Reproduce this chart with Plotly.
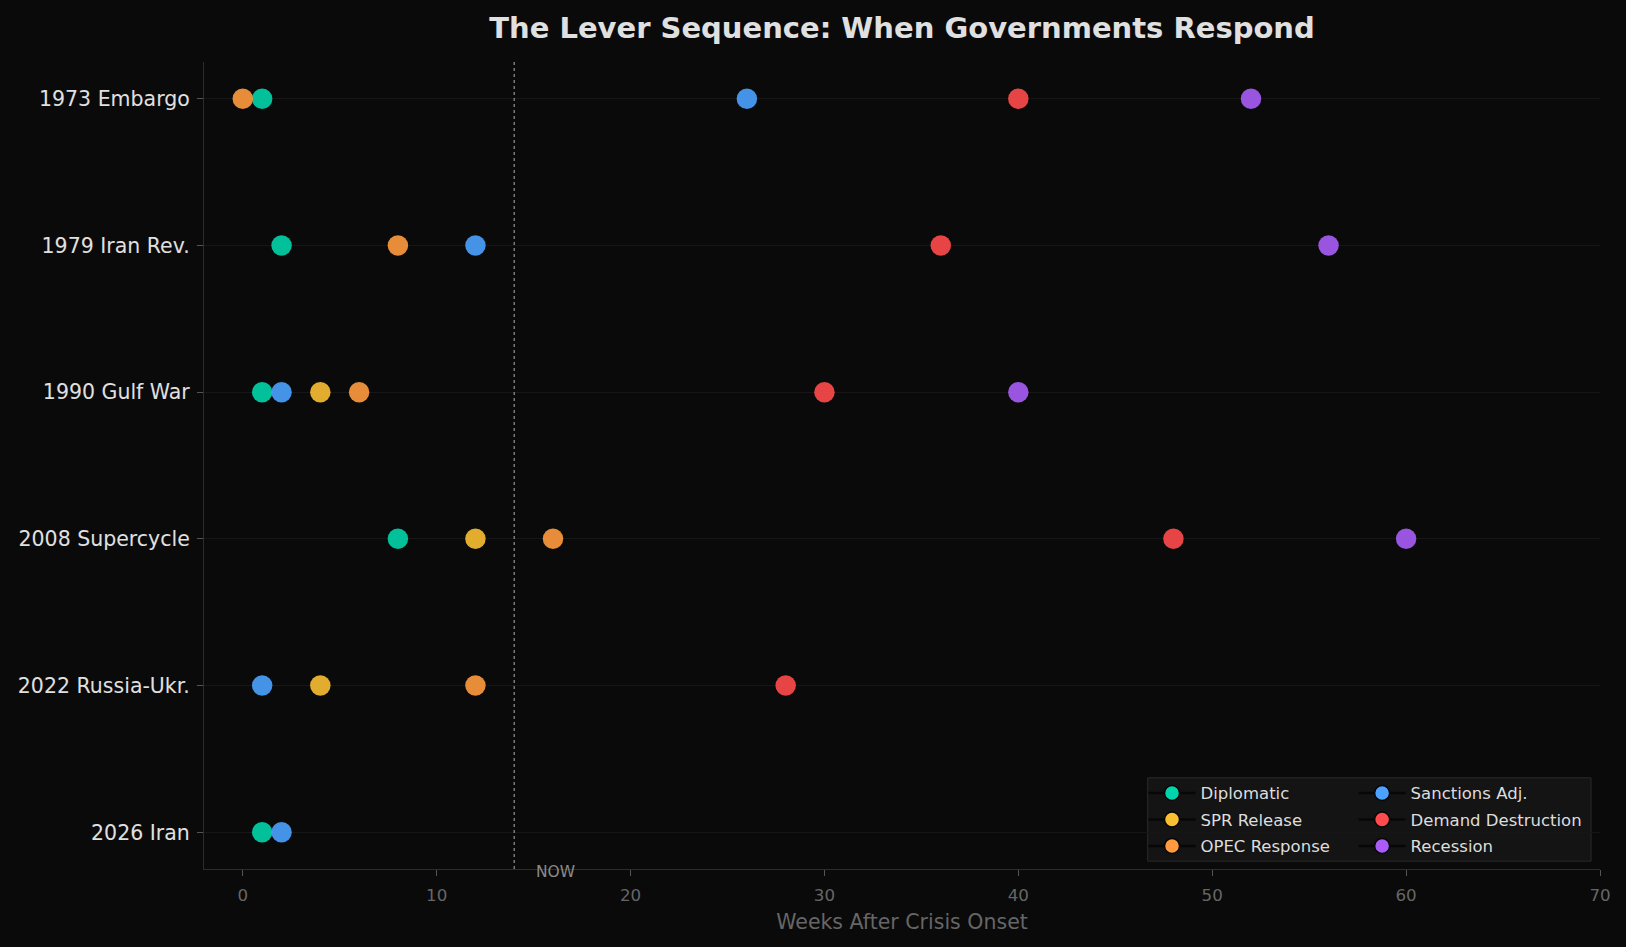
import plotly.graph_objects as go

# crises on y, weeks after onset on x
crises = ["1973 Embargo", "1979 Iran Rev.", "1990 Gulf War",
          "2008 Supercycle", "2022 Russia-Ukr.", "2026 Iran"]

levers = ["Diplomatic", "SPR Release", "OPEC Response",
          "Sanctions Adj.", "Demand Destruction", "Recession"]
colors = ["#00d4aa", "#f9bf33", "#ff9b3e", "#4ba2ff", "#ff4b4b", "#a95cf7"]

# week each lever fired, per crisis (None = never)
diplomatic = [1, 2, 1, 8, None, 1]
spr_release = [None, None, 4, 12, 4, None]
opec_response = [0, 8, 6, 16, 12, None]
sanctions_adj = [26, 12, 2, None, 1, 2]
demand_destruction = [40, 36, 30, 48, 28, None]
recession = [52, 56, 40, 60, None, None]

weeks = [diplomatic, spr_release, opec_response,
         sanctions_adj, demand_destruction, recession]

now_week = 14

fig = go.Figure()

for name, col, vals in zip(levers, colors, weeks):
    xs = [v for v in vals if v is not None]
    ys = [j for j, v in enumerate(vals) if v is not None]
    fig.add_trace(go.Scatter(
        x=xs, y=ys, mode="markers", name=name, showlegend=False,
        marker=dict(size=20.5, color=col, opacity=0.9, line=dict(width=0)),
    ))

# legend entries (matplotlib style: marker with dark edge on a short line)
for i, (name, col) in enumerate(zip(levers, colors)):
    fig.add_trace(go.Scatter(
        x=[None], y=[None], mode="lines+markers", name=name, legendgroup=name,
        line=dict(color="#070707", width=2.5),
        marker=dict(size=15, color=col, line=dict(color="#070707", width=1.5)),
        legend="legend" if i < 3 else "legend2",
    ))

# NOW marker
fig.add_vline(x=now_week, line=dict(color="#8a8a8a", width=1.3, dash="dot"))
fig.add_annotation(x=now_week + 1, y=0, yref="paper", xanchor="left",
                   yanchor="middle", yshift=-3, text="NOW", showarrow=False,
                   font=dict(size=15.5, color="#8a8a8a"))

# shared legend box behind both columns
fig.add_shape(type="rect", xref="paper", yref="paper",
              x0=0.676, x1=0.9936, y0=0.0097, y1=0.113,
              fillcolor="#141414", line=dict(color="#2a2a2a", width=1),
              layer="below")

leg_common = dict(bgcolor="rgba(0,0,0,0)", font=dict(size=16.5, color="#dddddd"),
                  yanchor="top", y=0.1155, xanchor="left", itemwidth=47,
                  itemsizing="trace", tracegroupgap=2)

fig.update_layout(
    width=1626, height=947,
    paper_bgcolor="#0a0a0a", plot_bgcolor="#0a0a0a",
    margin=dict(l=204, r=26, t=62, b=78),
    title=dict(text="<b>The Lever Sequence: When Governments Respond</b>",
               x=(204 + 1600) / 2 / 1626, xanchor="center",
               y=1 - 28 / 947, yanchor="middle",
               font=dict(size=29, color="#e0e0e0", family="DejaVu Sans")),
    font=dict(family="DejaVu Sans"),
    legend=dict(x=0.673, **leg_common),
    legend2=dict(x=0.8235, **leg_common),
    xaxis=dict(range=[-2, 70], dtick=10, showgrid=False, zeroline=False,
               showline=True, linecolor="#2c2c2c", linewidth=1.2,
               ticks="outside", tickcolor="#555555", ticklen=6, tickwidth=1.2,
               ticklabelstandoff=5,
               tickfont=dict(size=16.7, color="#666666"),
               title=dict(text="Weeks After Crisis Onset",
                          font=dict(size=20.5, color="#666666"), standoff=10)),
    yaxis=dict(range=[5.25, -0.25], tickvals=list(range(len(crises))),
               ticktext=crises, showgrid=True, gridcolor="#161616",
               zeroline=False, showline=True, linecolor="#2c2c2c", linewidth=1.2,
               ticks="outside", tickcolor="#555555", ticklen=6, tickwidth=1.2,
               ticklabelstandoff=3,
               tickfont=dict(size=20.5, color="#e0e0e0")),
)

fig.write_html("out.html", config={"displayModeBar": False},
               post_script="document.body.style.margin='0';"
                           "document.body.style.overflow='hidden';")
